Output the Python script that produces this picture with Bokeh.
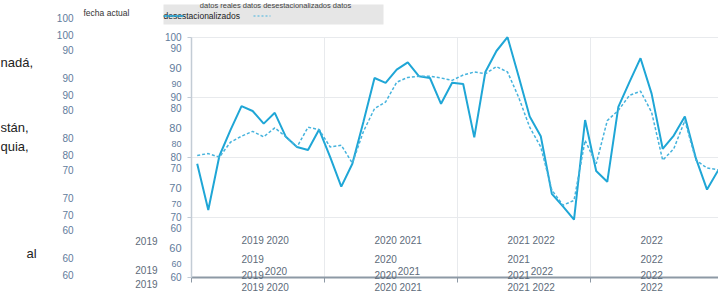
from bokeh.plotting import figure
from bokeh.models import Range1d, FixedTicker, Label, BoxAnnotation, Arrow, Grid
from bokeh.embed import file_html
from bokeh.resources import INLINE

# ---------------- data ----------------
months = list(range(48))
real = [78.9, 71.2, 80.2, 84.5, 88.5, 87.7, 85.6, 87.4, 83.4, 81.7, 81.2, 84.6,
        80.0, 75.1, 78.9, 85.9, 93.2, 92.4, 94.6, 95.8, 93.5, 93.2, 88.9, 92.4,
        92.2, 83.3, 94.2, 97.7, 100.0, 93.5, 86.8, 83.5, 73.9, 71.8, 69.6, 86.2,
        77.7, 75.9, 88.4, 92.5, 96.5, 90.6, 81.4, 83.6, 86.8, 79.8, 74.6, 77.8]
adj = [80.3, 80.6, 80.0, 82.5, 83.5, 84.3, 83.4, 84.9, 83.4, 81.7, 85.0, 84.6,
       81.7, 82.0, 79.0, 84.3, 88.1, 89.2, 92.5, 93.3, 93.5, 93.5, 93.2, 92.8,
       93.7, 94.2, 93.9, 95.1, 94.2, 90.0, 85.0, 81.7, 74.5, 72.0, 72.8, 82.8,
       78.9, 86.1, 87.8, 90.3, 91.0, 87.5, 79.5, 81.4, 86.1, 79.5, 78.2, 77.9]
year_ticks = [-0.5, 11.5, 23.5, 35.5]
y_ticks = [60, 70, 80, 90, 100]
first_years = ["2019", "2020", "2021", "2022"]
second_years = ["2020", "2021", "2022", ""]
year_label_ticks = [6.13, 18.13, 30.13, 41.0]
legend_title = "datos reales datos desestacionalizados datos"
legend_label = "desestacionalizados"
side_words = ["nadá,", "stán,", "quia,", "al"]
date_label = "fecha actual"

# ---------------- layout constants ----------------
FONT = "Liberation Sans"
BLUE = "#1fa6d6"
BLUE2 = "#45b3dd"
TICK_C = "#5f7c9c"
YEAR_C = "#5d6b7a"
AXIS_C = "#8d99a5"
W, H = 718, 294
X0, SX = 196.7, 11.083     # pixel of month 0, pixels per month
Y100, SY = 36.7, 6.0        # pixel of value 100, pixels per unit


def Yv(py):
    return 100 - (py - Y100) / SY


x_lo, x_hi = -X0 / SX, (W - X0) / SX
p = figure(width=W, height=H, output_backend="svg", toolbar_location=None,
           x_range=Range1d(x_lo, x_hi), y_range=Range1d(Yv(H), Yv(0)),
           min_border=0, min_border_left=0, min_border_right=0,
           min_border_top=0, min_border_bottom=0)
p.outline_line_color = None
p.background_fill_color = "white"
p.title.visible = False

p.line(months, real, line_color=BLUE, line_width=2)
p.line(months, adj, line_color=BLUE2, line_width=1.5, line_dash="3 2")

# x axis: year-boundary marks as minor ticks, year labels as major labels
combined = [(a + " " + b).strip() for a, b in zip(first_years, second_years)]
xa = p.xaxis[0]
xa.fixed_location = 60
xa.bounds = (-0.5, x_hi)
xa.ticker = FixedTicker(ticks=year_label_ticks, minor_ticks=year_ticks)
xa.major_label_overrides = {t: s for t, s in zip(year_label_ticks, combined)}
xa.major_label_text_font = FONT
xa.major_label_text_font_size = "10px"
xa.major_label_text_color = YEAR_C
xa.major_label_standoff = 0
xa.major_tick_line_color = None
xa.major_tick_out = 0
xa.major_tick_in = 0
xa.minor_tick_line_color = AXIS_C
xa.minor_tick_out = 5
xa.minor_tick_in = 0
xa.axis_line_color = AXIS_C
xa.axis_line_width = 2

ya = p.yaxis[0]
ya.fixed_location = -0.5
ya.bounds = (60, 100)
ya.ticker = FixedTicker(ticks=y_ticks)
ya.axis_line_color = "#c3ccd5"
ya.axis_line_width = 1.5
ya.major_tick_line_color = "#c3ccd5"
ya.major_tick_out = 4
ya.major_tick_in = 0
ya.minor_tick_line_color = None
ya.major_label_standoff = 6
ya.major_label_text_font = FONT
ya.major_label_text_font_size = "10px"
ya.major_label_text_color = TICK_C

GRID_C = "#e8eaed"
p.xgrid.ticker = FixedTicker(ticks=year_ticks)
p.xgrid.grid_line_color = GRID_C
p.ygrid.grid_line_color = GRID_C
if "cross_bounds" in Grid.properties():
    p.xgrid.cross_bounds = (60, 100)
    p.ygrid.cross_bounds = (-0.5, x_hi)
else:
    p.xgrid.visible = False
    p.ygrid.visible = False
    p.segment(x0=year_ticks, y0=[60] * len(year_ticks), x1=year_ticks,
              y1=[100] * len(year_ticks), line_color=GRID_C, level="underlay")
    p.segment(x0=[-0.5] * len(y_ticks), y0=y_ticks, x1=[x_hi] * len(y_ticks),
              y1=y_ticks, line_color=GRID_C, level="underlay")


def lab(text, x, y, size, color, align="left", xu="screen", baseline="middle"):
    p.add_layout(Label(x=x, y=y, x_units=xu, y_units="data", text=text,
                       text_font=FONT, text_font_size=size, text_color=color,
                       text_align=align, text_baseline=baseline))


# ghost tick labels beside the y axis
for d in [100, 90, 80, 70]:
    t = str(d - 10)
    lab(t, 181, d - 1.88, "10px", TICK_C, "right")
    lab(t, 181, d - 5.13, "11px", TICK_C, "right")
    lab(t, 181, d - 7.88, "9px", TICK_C, "right")

# ghost column further left
for v in y_ticks:
    lab(str(v), 73, v + 3.12, "10px", TICK_C, "right")
    lab(str(v), 73, v + 0.45, "10px", TICK_C, "right")
    if v < 100:
        lab(str(v), 73, v + 7.95, "10px", TICK_C, "right")

# year labels (overlapping ghost rows above the axis)
for k, (a, b) in enumerate(zip(first_years, second_years)):
    x0 = 4 + 12 * k
    lab(combined[k], x0, Yv(239.5), "10px", YEAR_C, xu="data")
    lab(a, x0, Yv(258.7), "10px", YEAR_C, xu="data")
    lab(a, x0, Yv(274), "10px", YEAR_C, xu="data")
    if b:
        lab(b, x0 + 2.1, Yv(270), "10px", YEAR_C, xu="data")

for py in [240, 269, 283.5]:
    lab(first_years[0], 157, Yv(py), "10px", YEAR_C, "right")

# left cut-off paragraph words
for w, py, xs in zip(side_words, [62, 126.7, 146, 253], [0, 0, 0, 26]):
    lab(w, xs, Yv(py), "13px", "#222222")

lab(date_label, 83, Yv(12), "8.5px", "#333333")

# legend
p.add_layout(BoxAnnotation(left=(163 - X0) / SX, right=(383 - X0) / SX,
                           bottom=Yv(24), top=Yv(4),
                           fill_color="#e6e6e6", fill_alpha=1.0, line_color=None))
lab(legend_title, 275, Yv(0.5), "7.5px", "#444444", "center", baseline="top")
lab(legend_label, 163, Yv(15.5), "8.5px", "#222222")
p.add_layout(Arrow(start=None, end=None, x_start=(163 - X0) / SX, x_end=(183 - X0) / SX,
                   y_start=Yv(15.5), y_end=Yv(15.5), line_color=BLUE, line_width=1.5))
p.add_layout(Arrow(start=None, end=None, x_start=(253 - X0) / SX, x_end=(270 - X0) / SX,
                   y_start=Yv(15.5), y_end=Yv(15.5), line_color=BLUE2, line_width=1.2,
                   line_dash="2 2"))

open("out.html", "w").write(file_html(p, INLINE))
